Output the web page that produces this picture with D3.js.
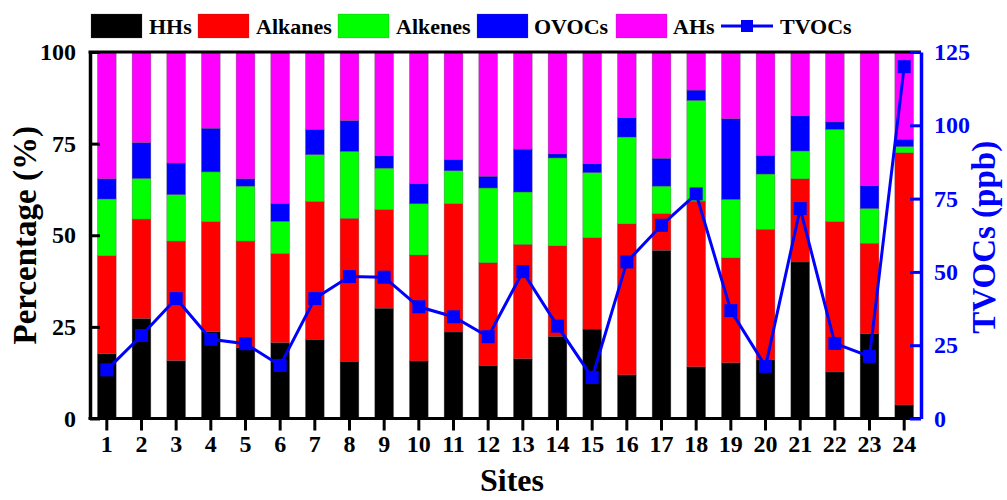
<!DOCTYPE html>
<html>
<head>
<meta charset="utf-8">
<script src="https://cdn.jsdelivr.net/npm/d3@7"></script>
<style>
  html, body { margin: 0; padding: 0; background: #fff; }
  svg { display: block; }
  text { font-family: "Liberation Serif", "Times New Roman", serif; font-weight: bold; }
</style>
</head>
<body>
<svg id="chart" width="1007" height="500"></svg>
<script>
// Sampling sites
const sites = ["1","2","3","4","5","6","7","8","9","10","11","12",
               "13","14","15","16","17","18","19","20","21","22","23","24"];

// Composition of VOCs at each site (%)
const hhs     = [17.7,27.3,15.8,23.7,19.3,20.7,21.6,15.6,30.1,15.7,23.6,14.5,
                 16.3,22.4,24.4,11.9,45.9,14.1,15.2,16.0,42.7,12.7,23.2,3.7];
const alkanes = [26.7,27.1,32.6,30.0,29.1,24.3,37.6,39.0,26.9,28.9,35.0,28.0,
                 31.2,24.7,24.9,41.2,10.0,45.2,28.6,35.6,22.7,41.0,24.6,68.8];
const alkenes = [15.5,11.1,12.7,13.6,15.0,8.8,12.8,18.3,11.3,14.0,9.0,20.4,
                 14.3,24.0,17.8,23.7,7.5,27.5,16.0,15.1,7.6,25.2,9.5,1.7];
const ovocs   = [5.5,9.8,8.6,11.9,2.0,4.9,6.9,8.4,3.4,5.5,3.1,3.2,
                 11.7,1.1,2.4,5.3,7.6,2.8,22.0,5.1,9.6,2.0,6.2,2.0];
const ahs     = [34.6,24.7,30.3,20.8,34.6,41.3,21.1,18.7,28.3,35.9,29.3,33.9,
                 26.5,27.8,30.5,17.9,29.0,10.4,18.2,28.2,17.4,19.1,36.5,23.8];

// Total VOC mixing ratio at each site (ppb)
const tvocs   = [16.6,28.3,40.9,27.0,25.5,18.1,40.9,48.4,48.2,38.1,34.7,27.9,
                 50.1,31.5,14.0,53.4,65.9,76.6,36.8,17.8,71.6,25.6,21.2,120.0];

const seriesNames = ["HHs","Alkanes","Alkenes","OVOCs","AHs"];
const seriesColors = ["#000000","#ff0000","#00ff00","#0000ff","#ff00ff"];
const pctTicks = [0,25,50,75,100];
const ppbTicks = [0,25,50,75,100,125];

const rows = sites.map((s, i) => ({
  site: s, HHs: hhs[i], Alkanes: alkanes[i], Alkenes: alkenes[i], OVOCs: ovocs[i], AHs: ahs[i]
}));

const svg = d3.select("#chart");
const plotL = 90, plotR = 921, plotT = 52, plotB = 418.5;
const tickFont = "24px";

const x = d3.scaleBand().domain(sites).range([plotL, plotR])
  .paddingInner(0.46).paddingOuter(0.215);
const y = d3.scaleLinear().domain([0, 100]).range([plotB, plotT]);
const y2 = d3.scaleLinear().domain([0, 125]).range([plotB, plotT]);
const color = d3.scaleOrdinal().domain(seriesNames).range(seriesColors);

// Stacked composition bars
const stacked = d3.stack().keys(seriesNames)(rows);
svg.append("g").selectAll("g").data(stacked).join("g")
  .attr("fill", d => color(d.key))
  .selectAll("rect").data(d => d).join("rect")
  .attr("x", d => x(d.data.site))
  .attr("width", x.bandwidth())
  .attr("y", d => y(Math.min(d[1], 100)))
  .attr("height", d => y(d[0]) - y(Math.min(d[1], 100)))
  .attr("stroke", "rgba(80,80,80,0.55)")
  .attr("stroke-width", 0.6);

// Frame: top black border
svg.append("line").attr("x1", plotL - 1.5).attr("x2", plotR).attr("y1", plotT).attr("y2", plotT)
  .attr("stroke", "#000").attr("stroke-width", 3);

// Bottom axis
const xAxis = svg.append("g").attr("transform", `translate(0,${plotB})`)
  .call(d3.axisBottom(x).tickSizeInner(12).tickSizeOuter(0).tickPadding(4));
xAxis.select(".domain").attr("stroke", "#000").attr("stroke-width", 3)
  .attr("d", `M${plotL - 1.5},0H${plotR}`);
xAxis.selectAll(".tick line").attr("stroke", "#000").attr("stroke-width", 3);
xAxis.selectAll(".tick text").attr("fill", "#000").style("font-size", tickFont)
  .style("font-family", "'Liberation Serif', serif").style("font-weight", "bold");

// Left axis (percentage)
const yAxis = svg.append("g").attr("transform", `translate(${plotL},0)`)
  .call(d3.axisLeft(y).tickValues(pctTicks).tickSizeInner(-10).tickSizeOuter(0).tickPadding(14));
yAxis.select(".domain").attr("stroke", "#000").attr("stroke-width", 3.5);
yAxis.selectAll(".tick line").attr("stroke", "#000").attr("stroke-width", 3);
yAxis.selectAll(".tick text").attr("fill", "#000").style("font-size", tickFont)
  .style("font-family", "'Liberation Serif', serif").style("font-weight", "bold");

// Right axis (TVOCs)
const y2Axis = svg.append("g").attr("transform", `translate(${plotR},0)`)
  .call(d3.axisRight(y2).tickValues(ppbTicks).tickSizeInner(-11).tickSizeOuter(0).tickPadding(13));
y2Axis.select(".domain").attr("stroke", "#0000ff").attr("stroke-width", 3.5);
y2Axis.selectAll(".tick line").attr("stroke", "#0000ff").attr("stroke-width", 3);
y2Axis.selectAll(".tick text").attr("fill", "#0000ff").style("font-size", tickFont)
  .style("font-family", "'Liberation Serif', serif").style("font-weight", "bold");

// TVOC line with square markers
const cx = s => x(s) + x.bandwidth() / 2;
svg.append("path").datum(tvocs)
  .attr("fill", "none").attr("stroke", "#0000ff").attr("stroke-width", 3)
  .attr("d", d3.line().x((d, i) => cx(sites[i])).y(d => y2(d)));
const ms = 13;
svg.append("g").selectAll("rect").data(tvocs).join("rect")
  .attr("x", (d, i) => cx(sites[i]) - ms / 2)
  .attr("y", d => y2(d) - ms / 2)
  .attr("width", ms).attr("height", ms)
  .attr("fill", "#0000ff");

// Axis titles
svg.append("text").attr("x", 512).attr("y", 491)
  .attr("text-anchor", "middle").style("font-size", "32px").attr("fill", "#000").text("Sites");
svg.append("text").attr("transform", `translate(36,${(plotT + plotB) / 2}) rotate(-90)`)
  .attr("text-anchor", "middle").style("font-size", "33px").attr("fill", "#000").text("Percentage (%)");
svg.append("text").attr("transform", `translate(995,${(plotT + plotB) / 2 + 2}) rotate(-90)`)
  .attr("text-anchor", "middle").style("font-size", "33px").attr("fill", "#0000ff").text("TVOCs (ppb)");

// Legend
const legendItems = [
  { name: "HHs", box: 91, text: 149 },
  { name: "Alkanes", box: 198, text: 256 },
  { name: "Alkenes", box: 338, text: 396 },
  { name: "OVOCs", box: 477, text: 534 },
  { name: "AHs", box: 616, text: 673 }
];
const legend = svg.append("g");
legendItems.forEach(item => {
  legend.append("rect").attr("x", item.box).attr("y", 14).attr("width", 51).attr("height", 24)
    .attr("fill", color(item.name)).attr("stroke", "rgba(80,80,80,0.4)").attr("stroke-width", 0.6);
  legend.append("text").attr("x", item.text).attr("y", 34).style("font-size", "22px")
    .attr("fill", "#000").text(item.name);
});
legend.append("line").attr("x1", 721).attr("x2", 773).attr("y1", 26).attr("y2", 26)
  .attr("stroke", "#0000ff").attr("stroke-width", 3);
legend.append("rect").attr("x", 741).attr("y", 20).attr("width", 12).attr("height", 12).attr("fill", "#0000ff");
legend.append("text").attr("x", 780).attr("y", 34).style("font-size", "22px")
  .attr("fill", "#000").text("TVOCs");
</script>
</body>
</html>
